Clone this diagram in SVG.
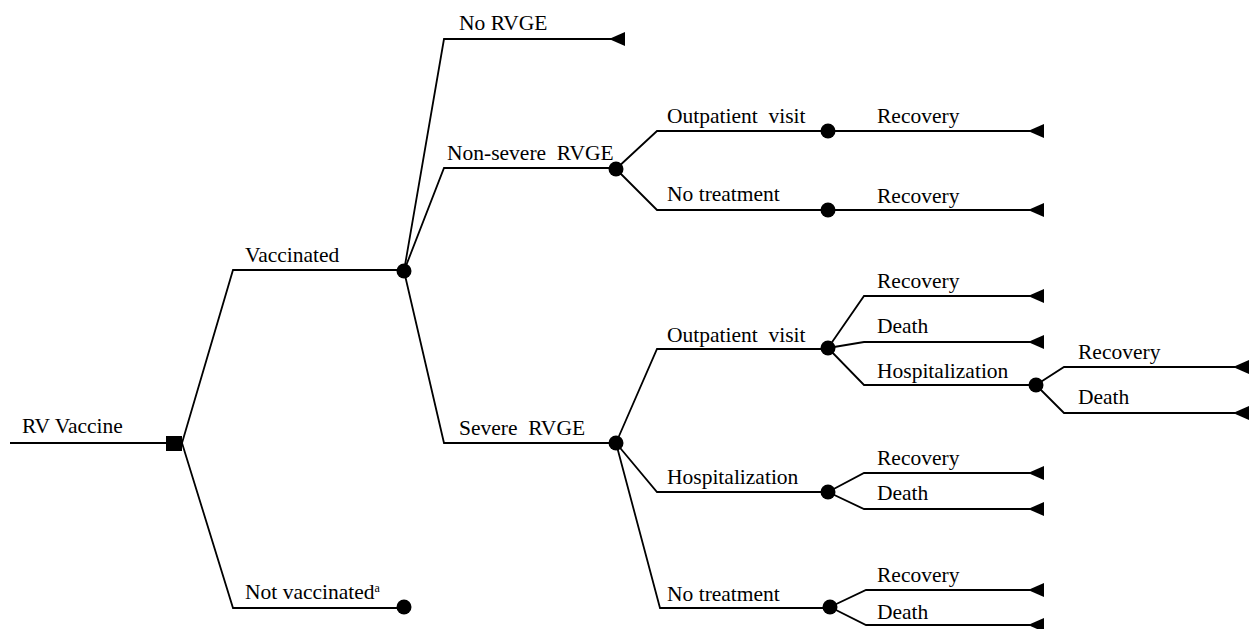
<svg xmlns="http://www.w3.org/2000/svg" width="1249" height="629" viewBox="0 0 1249 629">
<style>
text{font-size:21.5px;fill:#000;white-space:pre}
.l{fill:none;stroke:#000;stroke-width:1.8}
.c{fill:#000}
</style>
<defs>
<polygon id="tri" points="-16,0 0,-7 0,7"/>
</defs>
<rect width="1249" height="629" fill="#fff"/>
<g id="connectors">
<path class="l" d="M10,443 H174"/>
<path class="l" d="M182,443 L233,270 H404"/>
<path class="l" d="M182,443 L233,608 H404"/>
<path class="l" d="M404,271 L444,39 H612"/>
<path class="l" d="M404,271 L444,168 H616"/>
<path class="l" d="M404,271 L444,443 H616"/>
<path class="l" d="M616,169 L657,131 H1030"/>
<path class="l" d="M616,169 L657,210 H1030"/>
<path class="l" d="M616,443 L657,349 H828"/>
<path class="l" d="M616,443 L657,492 H828"/>
<path class="l" d="M616,443 L660,608 H830"/>
<path class="l" d="M828,348 L864,296 H1030"/>
<path class="l" d="M828,348 L864,342 H1030"/>
<path class="l" d="M828,348 L864,385 H1036"/>
<path class="l" d="M1036,385 L1064,367 H1235"/>
<path class="l" d="M1036,385 L1064,413 H1235"/>
<path class="l" d="M828,492 L864,473 H1030"/>
<path class="l" d="M828,492 L864,509 H1030"/>
<path class="l" d="M830,607 L866,590 H1030"/>
<path class="l" d="M830,607 L866,625 H1030"/>
</g>
<g font-family="'Liberation Serif', 'Times New Roman', Times, 'DejaVu Serif', serif">
<g id="root"><rect x="166" y="436" width="16" height="15" class="c"/><text x="22" y="433">RV Vaccine</text></g>
<g id="vaccinated"><circle cx="404" cy="271" r="7.5" class="c"/><text x="245" y="262">Vaccinated</text></g>
<g id="not-vaccinated"><circle cx="404" cy="607" r="7.5" class="c"/><text x="245" y="599">Not vaccinated<tspan font-size="12" dy="-7">a</tspan></text></g>
<g id="no-rvge"><use href="#tri" x="625" y="39"/><text x="459" y="30">No RVGE</text></g>
<g id="non-severe"><circle cx="616" cy="169" r="7.5" class="c"/><text x="447" y="160">Non-severe  RVGE</text></g>
<g id="severe"><circle cx="616" cy="443" r="7.5" class="c"/><text x="459" y="435">Severe  RVGE</text></g>
<g id="ns-outpatient"><circle cx="828" cy="131" r="7.5" class="c"/><text x="667" y="123">Outpatient  visit</text></g>
<g id="ns-outpatient-recovery"><use href="#tri" x="1044" y="131"/><text x="877" y="123">Recovery</text></g>
<g id="ns-notreat"><circle cx="828" cy="210" r="7.5" class="c"/><text x="667" y="201">No treatment</text></g>
<g id="ns-notreat-recovery"><use href="#tri" x="1044" y="210"/><text x="877" y="203">Recovery</text></g>
<g id="s-outpatient"><circle cx="828" cy="348" r="7.5" class="c"/><text x="667" y="342">Outpatient  visit</text></g>
<g id="s-op-recovery"><use href="#tri" x="1044" y="296"/><text x="877" y="288">Recovery</text></g>
<g id="s-op-death"><use href="#tri" x="1044" y="342"/><text x="877" y="333">Death</text></g>
<g id="s-op-hosp"><circle cx="1036" cy="385" r="7.5" class="c"/><text x="877" y="378">Hospitalization</text></g>
<g id="s-op-hosp-recovery"><use href="#tri" x="1249" y="367"/><text x="1078" y="359">Recovery</text></g>
<g id="s-op-hosp-death"><use href="#tri" x="1249" y="413"/><text x="1078" y="404">Death</text></g>
<g id="s-hosp"><circle cx="828" cy="492" r="7.5" class="c"/><text x="667" y="484">Hospitalization</text></g>
<g id="s-hosp-recovery"><use href="#tri" x="1044" y="473"/><text x="877" y="465">Recovery</text></g>
<g id="s-hosp-death"><use href="#tri" x="1044" y="509"/><text x="877" y="500">Death</text></g>
<g id="s-notreat"><circle cx="830" cy="607" r="7.5" class="c"/><text x="667" y="601">No treatment</text></g>
<g id="s-notreat-recovery"><use href="#tri" x="1044" y="590"/><text x="877" y="582">Recovery</text></g>
<g id="s-notreat-death"><use href="#tri" x="1044" y="625"/><text x="877" y="619">Death</text></g>
</g>
</svg>
